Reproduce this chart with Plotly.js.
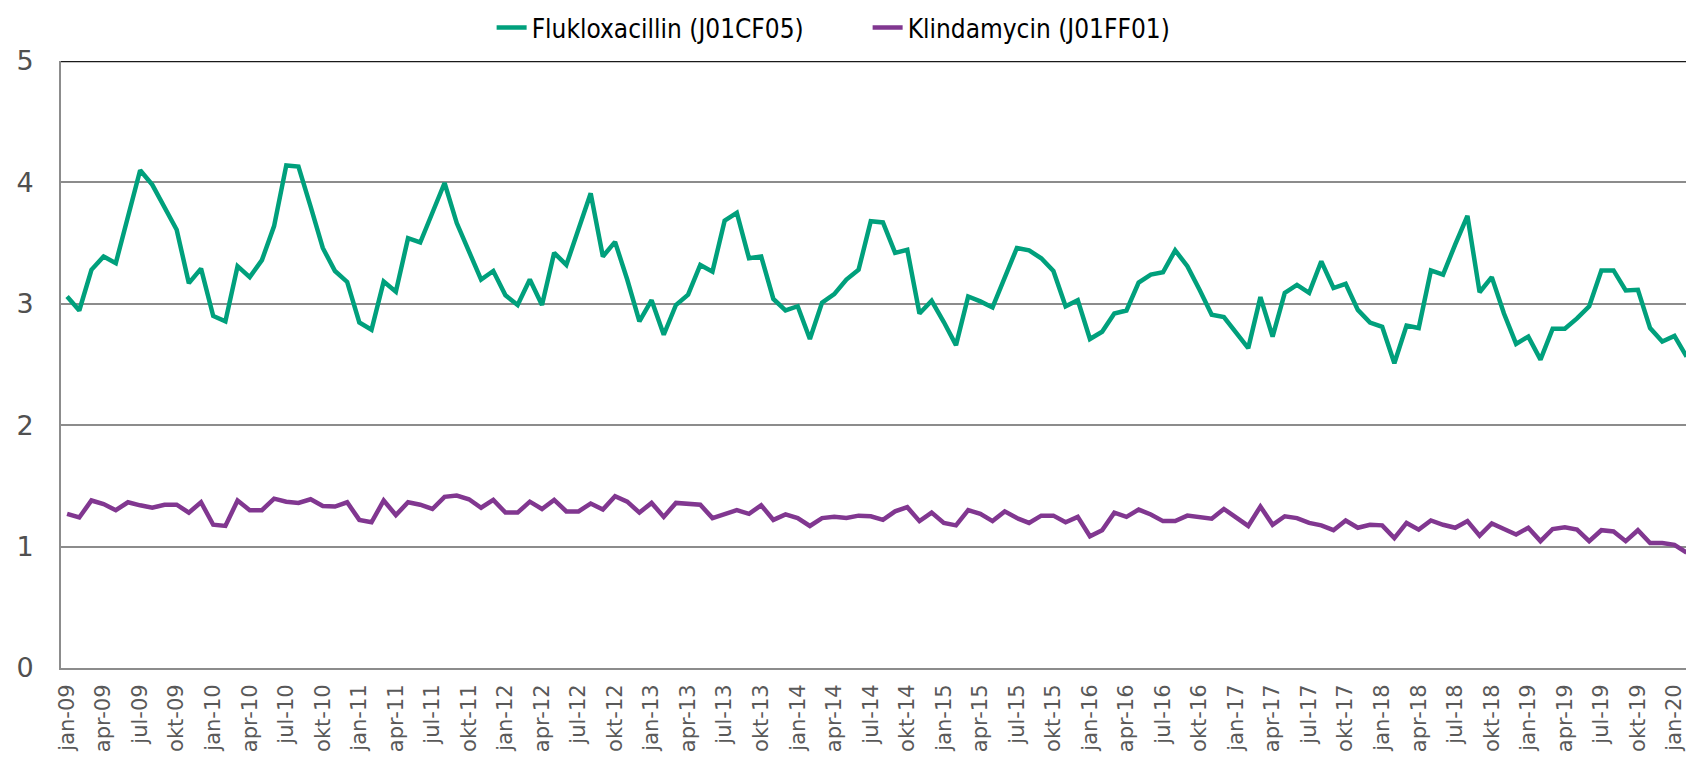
<!DOCTYPE html>
<html>
<head>
<meta charset="utf-8">
<script src="https://cdn.plot.ly/plotly-3.0.1.min.js"></script>
<style>
  html, body { margin: 0; padding: 0; background: #ffffff; }
  #chart { width: 1686px; height: 758px; }
</style>
</head>
<body>
<div id="chart"></div>
<script>
// Month names (Danish) and years used for the category labels
const monthNames = ['jan','feb','mar','apr','maj','jun','jul','aug','sep','okt','nov','dec'];
const startYear = 2009;
const pointCount = 134; // jan-09 ... feb-20

// Flukloxacillin (J01CF05), monthly values
const flukloxacillin = [
  3.06, 2.945, 3.28, 3.39, 3.335, 3.72, 4.10, 3.98, 3.79, 3.61, 3.17, 3.29,
  2.90, 2.855, 3.31, 3.22, 3.36, 3.64, 4.14, 4.13, 3.80, 3.46, 3.27, 3.18,
  2.846, 2.786, 3.184, 3.10, 3.54, 3.505, 3.75, 3.995, 3.665, 3.43, 3.20, 3.27,
  3.07, 2.99, 3.20, 2.99, 3.42, 3.32, 3.615, 3.91, 3.39, 3.51, 3.20, 2.855,
  3.03, 2.745, 2.99, 3.075, 3.32, 3.265, 3.685, 3.75, 3.375, 3.39, 3.04, 2.945,
  2.98, 2.71, 3.01, 3.08, 3.20, 3.28, 3.68, 3.67, 3.42, 3.445, 2.92, 3.025,
  2.85, 2.66, 3.06, 3.02, 2.97, 3.225, 3.46, 3.44, 3.375, 3.27, 2.98, 3.03,
  2.71, 2.77, 2.92, 2.945, 3.175, 3.24, 3.26, 3.44, 3.31, 3.115, 2.91, 2.89,
  2.765, 2.635, 3.055, 2.73, 3.09, 3.155, 3.09, 3.35, 3.13, 3.165, 2.95, 2.845,
  2.81, 2.51, 2.82, 2.80, 3.275, 3.24, 3.49, 3.725, 3.095, 3.22, 2.92, 2.67,
  2.73, 2.54, 2.795, 2.795, 2.88, 2.98, 3.275, 3.275, 3.11, 3.115, 2.80, 2.69,
  2.735, 2.565
];

// Klindamycin (J01FF01), monthly values
const klindamycin = [
  1.27, 1.24, 1.38, 1.35, 1.30, 1.365, 1.34, 1.32, 1.345, 1.345, 1.28, 1.365,
  1.18, 1.17, 1.38, 1.30, 1.30, 1.395, 1.37, 1.36, 1.39, 1.335, 1.33, 1.365,
  1.22, 1.20, 1.38, 1.26, 1.365, 1.345, 1.31, 1.41, 1.42, 1.39, 1.32, 1.385,
  1.28, 1.28, 1.37, 1.31, 1.385, 1.29, 1.29, 1.355, 1.305, 1.415, 1.37, 1.28,
  1.36, 1.245, 1.36, 1.355, 1.345, 1.235, 1.27, 1.30, 1.27, 1.34, 1.22, 1.265,
  1.235, 1.17, 1.235, 1.245, 1.235, 1.255, 1.25, 1.22, 1.29, 1.325, 1.21, 1.28,
  1.195, 1.175, 1.30, 1.27, 1.21, 1.29, 1.235, 1.195, 1.255, 1.255, 1.20, 1.245,
  1.085, 1.135, 1.28, 1.245, 1.305, 1.265, 1.21, 1.21, 1.255, 1.245, 1.23, 1.31,
  1.235, 1.17, 1.33, 1.18, 1.25, 1.235, 1.195, 1.175, 1.135, 1.215, 1.155, 1.18,
  1.175, 1.07, 1.195, 1.14, 1.215, 1.18, 1.155, 1.21, 1.09, 1.19, 1.145, 1.10,
  1.155, 1.045, 1.145, 1.16, 1.14, 1.045, 1.135, 1.125, 1.045, 1.135, 1.03, 1.03,
  1.015, 0.95
];

// Category labels like "jan-09"
const categories = [];
for (let i = 0; i < pointCount; i++) {
  const m = i % 12;
  const y = startYear + Math.floor(i / 12);
  categories.push(monthNames[m] + '-' + String(y).slice(2));
}
// Quarterly tick labels (jan, apr, jul, okt) up to jan-20
const tickLabels = categories.filter((c, i) => i % 3 === 0 && i <= 132);

const seriesNames = ['Flukloxacillin (J01CF05)', 'Klindamycin (J01FF01)'];
const seriesColors = ['#00a07c', '#813790'];

const traces = [
  {
    type: 'scatter', mode: 'lines', name: seriesNames[0],
    x: categories, y: flukloxacillin,
    line: { color: seriesColors[0], width: 4.5 },
    hoverinfo: 'x+y+name'
  },
  {
    type: 'scatter', mode: 'lines', name: seriesNames[1],
    x: categories, y: klindamycin,
    line: { color: seriesColors[1], width: 4.5 },
    hoverinfo: 'x+y+name'
  }
];

const layout = {
  width: 1686, height: 758,
  margin: { l: 61, r: 0, t: 61, b: 90, pad: 0 },
  paper_bgcolor: '#ffffff', plot_bgcolor: '#ffffff',
  showlegend: true,
  legend: {
    orientation: 'h',
    x: 0.265, xanchor: 'left',
    y: 1.055, yanchor: 'middle',
    entrywidth: 331, entrywidthmode: 'pixels',
    font: { family: 'DejaVu Sans Condensed, DejaVu Sans, sans-serif', size: 26, color: '#000000' },
    bgcolor: 'rgba(0,0,0,0)'
  },
  xaxis: {
    type: 'category',
    range: [-0.5, 132.95],
    tickmode: 'array',
    tickvals: tickLabels,
    ticktext: tickLabels,
    tickangle: -90,
    ticks: '',
    ticklabelstandoff: 6,
    tickfont: { family: 'DejaVu Sans, sans-serif', size: 21, color: '#595959' },
    showgrid: false,
    showline: true, linecolor: '#8c8c8c', linewidth: 2,
    zeroline: false,
    fixedrange: true
  },
  yaxis: {
    range: [0, 5],
    tickmode: 'linear', tick0: 0, dtick: 1,
    ticks: '',
    ticklabelstandoff: 20,
    tickfont: { family: 'DejaVu Sans, sans-serif', size: 27, color: '#505050' },
    showgrid: true, gridcolor: '#8c8c8c', gridwidth: 2,
    showline: true, linecolor: '#8c8c8c', linewidth: 2,
    zeroline: false,
    fixedrange: true
  },
  shapes: [
    { type: 'line', xref: 'paper', yref: 'y', x0: 0, x1: 1, y0: 5, y1: 5,
      line: { color: '#1a1a1a', width: 2.5 }, layer: 'above' }
  ]
};

Plotly.newPlot('chart', traces, layout, { displayModeBar: false, staticPlot: true });
</script>
</body>
</html>
